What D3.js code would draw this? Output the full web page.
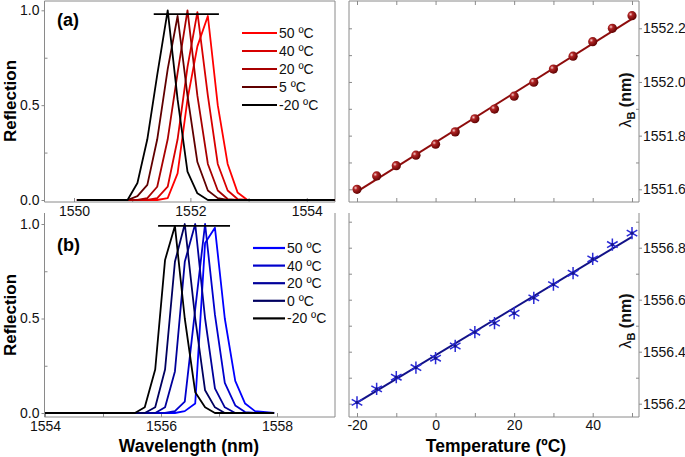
<!DOCTYPE html>
<html>
<head>
<meta charset="utf-8">
<script src="https://cdn.jsdelivr.net/npm/d3@7"></script>
<style>
  body { margin: 0; background: #fff; }
  text { font-family: "Liberation Sans", Arial, sans-serif; }
</style>
</head>
<body>
<svg id="fig" width="685" height="457"></svg>
<script>
// ---- data ----
// (a) spectra, sampled wavelengths (nm)
var wlA = [1550.05, 1550.92, 1551.09, 1551.26, 1551.43, 1551.61, 1551.78, 1551.95, 1552.12, 1552.30, 1552.47, 1552.64, 1552.81, 1552.98, 1554.48];
var refA50  = [0, 0, 0, 0, 0, 0.01, 0.14, 0.53, 0.81, 0.97, 0.50, 0.19, 0.04, 0, 0];
var refA40  = [0, 0, 0, 0, 0.01, 0.07, 0.32, 0.70, 0.99, 0.55, 0.19, 0.05, 0.005, 0, 0];
var refA20  = [0, 0, 0, 0.01, 0.07, 0.32, 0.67, 1.00, 0.55, 0.19, 0.05, 0.005, 0, 0, 0];
var refA5   = [0, 0, 0.02, 0.08, 0.32, 0.69, 0.97, 0.55, 0.20, 0.05, 0.01, 0, 0, 0, 0];
var refAm20 = [0, 0, 0.09, 0.32, 0.66, 1.00, 0.53, 0.15, 0.035, 0, 0, 0, 0, 0, 0];
var labelsA = ["50 ºC", "40 ºC", "20 ºC", "5 ºC", "-20 ºC"];
var colorsA = ["#ff0000", "#d80000", "#a80000", "#600000", "#000000"];

// (b) spectra
var wlB = [1554.0, 1555.55, 1555.72, 1555.90, 1556.07, 1556.24, 1556.41, 1556.59, 1556.76, 1556.93, 1557.10, 1557.28, 1557.45, 1557.62, 1557.95];
var refB50  = [0, 0, 0, 0, 0, 0, 0.01, 0.05, 0.90, 0.98, 0.50, 0.17, 0.05, 0.01, 0];
var refB40  = [0, 0, 0, 0, 0, 0.01, 0.06, 0.55, 1.00, 0.52, 0.16, 0.04, 0.005, 0, 0];
var refB20  = [0, 0, 0, 0, 0.03, 0.22, 0.80, 1.00, 0.50, 0.13, 0.03, 0, 0, 0, 0];
var refB0   = [0, 0, 0, 0.03, 0.23, 0.80, 1.00, 0.50, 0.12, 0.03, 0, 0, 0, 0, 0];
var refBm20 = [0, 0, 0.03, 0.23, 0.81, 0.99, 0.50, 0.11, 0.03, 0, 0, 0, 0, 0, 0];
var labelsB = ["50 ºC", "40 ºC", "20 ºC", "0 ºC", "-20 ºC"];
var colorsB = ["#0000ff", "#0000cc", "#00009a", "#000060", "#000000"];

// peak-level bars
var barA = [[1551.37, 0.98], [1552.49, 0.98]];
var barB = [[1555.95, 0.99], [1557.19, 0.99]];

// Bragg wavelength vs temperature
var temps = [-20, -15, -10, -5, 0, 5, 10, 15, 20, 25, 30, 35, 40, 45, 50];
var lamA = [1551.600, 1551.650, 1551.688, 1551.727, 1551.768, 1551.814, 1551.863, 1551.899, 1551.947, 1551.999, 1552.048, 1552.096, 1552.150, 1552.200, 1552.247];
var lamB = [1556.205, 1556.257, 1556.302, 1556.339, 1556.375, 1556.422, 1556.475, 1556.510, 1556.548, 1556.607, 1556.658, 1556.702, 1556.757, 1556.812, 1556.856];
var fitT = [-20, 50];
var fitA = [1551.591, 1552.235];
var fitB = [1556.204, 1556.842];

// tick values
var reflTicks = [0, 0.5, 1];
var reflMinor = [0.25, 0.75];
var wlTicksA = [1550, 1551, 1552, 1553, 1554];
var wlTicksB = [1554, 1555, 1556, 1557, 1558];
var tTicks = [-20, -10, 0, 10, 20, 30, 40, 50];
var lamTicksA = [1551.6, 1551.8, 1552.0, 1552.2];
var lamMinorA = [1551.7, 1551.9, 1552.1];
var lamTicksB = [1556.2, 1556.4, 1556.6, 1556.8];
var lamMinorB = [1556.3, 1556.5, 1556.7, 1556.9];

// ---- layout ----
var svg = d3.select("#fig"),
    frameColor = "#8a8a8a",
    L = {x0: 44.5, x1: 335},
    R = {x0: 349, x1: 639},
    TOP = {y0: 1, y1: 202},
    BOT = {y0: 213, y1: 417};

var xa = d3.scaleLinear().domain([1550, 1554]).range([74, 306.8]);
var ya = d3.scaleLinear().domain([0, 1]).range([200, 10.3]);
var xb = d3.scaleLinear().domain([1554, 1558]).range([45, 277]);
var yb = d3.scaleLinear().domain([0, 1]).range([413, 224]);
var xt = d3.scaleLinear().domain([-20, 50]).range([357, 632]);
var yta = d3.scaleLinear().domain([1551.6, 1552.2]).range([189.3, 28.3]);
var ytb = d3.scaleLinear().domain([1556.2, 1556.8]).range([403.7, 247.7]);

var defs = svg.append("defs");
var grad = defs.append("radialGradient").attr("id", "ball")
    .attr("cx", "35%").attr("cy", "35%").attr("r", "70%");
grad.append("stop").attr("offset", "0%").attr("stop-color", "#f6d0d0");
grad.append("stop").attr("offset", "30%").attr("stop-color", "#b02424");
grad.append("stop").attr("offset", "100%").attr("stop-color", "#5a0000");

function styleAxis(g, showDomain) {
  if (!showDomain) g.select(".domain").remove();
  g.selectAll(".tick line").attr("stroke", frameColor);
  g.selectAll(".tick text").attr("fill", "#111").style("font-size", "14px")
      .style("font-family", "'Liberation Sans', Arial, sans-serif");
}

function frame(box, yr, withTop) {
  var g = svg.append("g").attr("fill", "none").attr("stroke", frameColor).attr("stroke-width", 1);
  g.append("line").attr("x1", box.x0).attr("x2", box.x0).attr("y1", yr.y0).attr("y2", yr.y1);
  g.append("line").attr("x1", box.x1).attr("x2", box.x1).attr("y1", yr.y0).attr("y2", yr.y1);
  g.append("line").attr("x1", box.x0).attr("x2", box.x1).attr("y1", yr.y1).attr("y2", yr.y1);
  if (withTop) g.append("line").attr("x1", box.x0).attr("x2", box.x1).attr("y1", yr.y0).attr("y2", yr.y0);
}

// ---- spectra panels ----
function spectraPanel(x, y, yr, wl, series, colors, labels, bar, wlTicks, tag, legend) {
  var fmt = function(d) { return (d % 2 === 0) ? d : ""; };

  svg.append("g").attr("transform", "translate(" + L.x0 + ",0)")
      .call(d3.axisLeft(y).tickValues(reflTicks).tickSize(3).tickPadding(2).tickFormat(d3.format(".1f")))
      .call(styleAxis, false);
  svg.append("g").attr("transform", "translate(" + L.x0 + ",0)")
      .call(d3.axisRight(y).tickValues(reflMinor).tickSize(3).tickFormat(""))
      .call(styleAxis, false);
  svg.append("g").attr("transform", "translate(0," + yr.y1 + ")")
      .call(d3.axisBottom(x).tickValues(wlTicks).tickSize(-4).tickPadding(4).tickFormat(fmt))
      .call(styleAxis, false);

  var line = d3.line().x(function(d) { return x(d[0]); }).y(function(d) { return y(d[1]); });

  series.forEach(function(vals, i) {
    svg.append("path")
        .datum(wl.map(function(w, k) { return [w, vals[k]]; }))
        .attr("d", line)
        .attr("fill", "none")
        .attr("stroke", colors[i])
        .attr("stroke-width", 1.8)
        .attr("stroke-linejoin", "round");
  });

  svg.append("path").datum(bar).attr("d", line)
      .attr("stroke", "#000").attr("stroke-width", 1.6);

  svg.append("text").attr("x", 57).attr("y", tag.y)
      .attr("font-size", 18).attr("font-weight", "bold").text(tag.text);

  var lg = svg.append("g");
  labels.forEach(function(lab, i) {
    var cy = legend.y + i * legend.dy;
    lg.append("line").attr("x1", legend.x0).attr("x2", legend.x1)
        .attr("y1", cy).attr("y2", cy)
        .attr("stroke", colors[i]).attr("stroke-width", 2.2);
    lg.append("text").attr("x", legend.x1 + 2).attr("y", cy + 5)
        .attr("font-size", 14).attr("fill", "#111").text(lab);
  });
}

frame(L, TOP, true);
frame(L, BOT, false);
frame(R, TOP, true);
frame(R, BOT, false);

spectraPanel(xa, ya, TOP, wlA, [refA50, refA40, refA20, refA5, refAm20], colorsA, labelsA,
    barA, wlTicksA, {text: "(a)", y: 26}, {x0: 242, x1: 277, y: 33, dy: 18});
spectraPanel(xb, yb, BOT, wlB, [refB50, refB40, refB20, refB0, refBm20], colorsB, labelsB,
    barB, wlTicksB, {text: "(b)", y: 251}, {x0: 253, x1: 285, y: 248, dy: 17.6});

svg.append("text").attr("transform", "translate(16,101) rotate(-90)")
    .attr("text-anchor", "middle").attr("font-size", 17).attr("font-weight", "bold").text("Reflection");
svg.append("text").attr("transform", "translate(16,315) rotate(-90)")
    .attr("text-anchor", "middle").attr("font-size", 17).attr("font-weight", "bold").text("Reflection");
svg.append("text").attr("x", 189).attr("y", 452)
    .attr("text-anchor", "middle").attr("font-size", 17.5).attr("font-weight", "bold").text("Wavelength (nm)");

// ---- temperature panels ----
function tempPanel(y, yr, lam, fit, lamTicks, lamMinor, lineColor, marker, showX, titleY) {
  svg.append("g").attr("transform", "translate(" + R.x1 + ",0)")
      .call(d3.axisRight(y).tickValues(lamTicks).tickSize(3).tickPadding(1).tickFormat(d3.format(".1f")))
      .call(styleAxis, false);
  svg.append("g").attr("transform", "translate(" + R.x1 + ",0)")
      .call(d3.axisLeft(y).tickValues(lamMinor).tickSize(3).tickFormat(""))
      .call(styleAxis, false);
  svg.append("g").attr("transform", "translate(" + R.x0 + ",0)")
      .call(d3.axisRight(y).tickValues(lamTicks.concat(lamMinor)).tickSize(3).tickFormat(""))
      .call(styleAxis, false);

  if (showX) {
    svg.append("g").attr("transform", "translate(0," + yr.y1 + ")")
        .call(d3.axisBottom(xt).tickValues(tTicks).tickSize(-4).tickPadding(3)
          .tickFormat(function(d) { return d % 20 === 0 ? d : ""; }))
        .call(styleAxis, false);
  } else {
    svg.append("g").attr("transform", "translate(0," + yr.y1 + ")")
        .call(d3.axisTop(xt).tickValues(tTicks).tickSize(4).tickFormat(""))
        .call(styleAxis, false);
    svg.append("g").attr("transform", "translate(0," + yr.y0 + ")")
        .call(d3.axisBottom(xt).tickValues(tTicks).tickSize(4).tickFormat(""))
        .call(styleAxis, false);
  }

  svg.append("line")
      .attr("x1", xt(fitT[0])).attr("y1", y(fit[0]))
      .attr("x2", xt(fitT[1])).attr("y2", y(fit[1]))
      .attr("stroke", lineColor).attr("stroke-width", 2);

  var pts = svg.append("g");
  temps.forEach(function(t, i) {
    if (marker === "ball") {
      pts.append("circle").attr("cx", xt(t)).attr("cy", y(lam[i])).attr("r", 4.6)
          .attr("fill", "url(#ball)");
    } else {
      pts.append("path")
          .attr("transform", "translate(" + xt(t) + "," + y(lam[i]) + ")")
          .attr("d", d3.symbol().type(d3.symbolAsterisk).size(105)())
          .attr("fill", "none").attr("stroke", "#2a2ad6").attr("stroke-width", 1.5);
      pts.append("circle").attr("cx", xt(t)).attr("cy", y(lam[i])).attr("r", 1.6)
          .attr("fill", "#14148a");
    }
  });

  var lab = svg.append("text").attr("transform", "translate(631," + titleY + ") rotate(-90)")
      .attr("text-anchor", "middle").attr("font-size", 16).attr("fill", "#111");
  lab.append("tspan").text("λ");
  lab.append("tspan").attr("font-weight", "bold").attr("font-size", 11).attr("dy", 4).text("B");
  lab.append("tspan").attr("font-weight", "bold").attr("dy", -4).text(" (nm)");
}

tempPanel(yta, TOP, lamA, fitA, lamTicksA, lamMinorA, "#8e0c0c", "ball", false, 100);
tempPanel(ytb, BOT, lamB, fitB, lamTicksB, lamMinorB, "#121288", "star", true, 321);

svg.append("text").attr("x", 496).attr("y", 452)
    .attr("text-anchor", "middle").attr("font-size", 17.5).attr("font-weight", "bold").text("Temperature (ºC)");
</script>
</body>
</html>
